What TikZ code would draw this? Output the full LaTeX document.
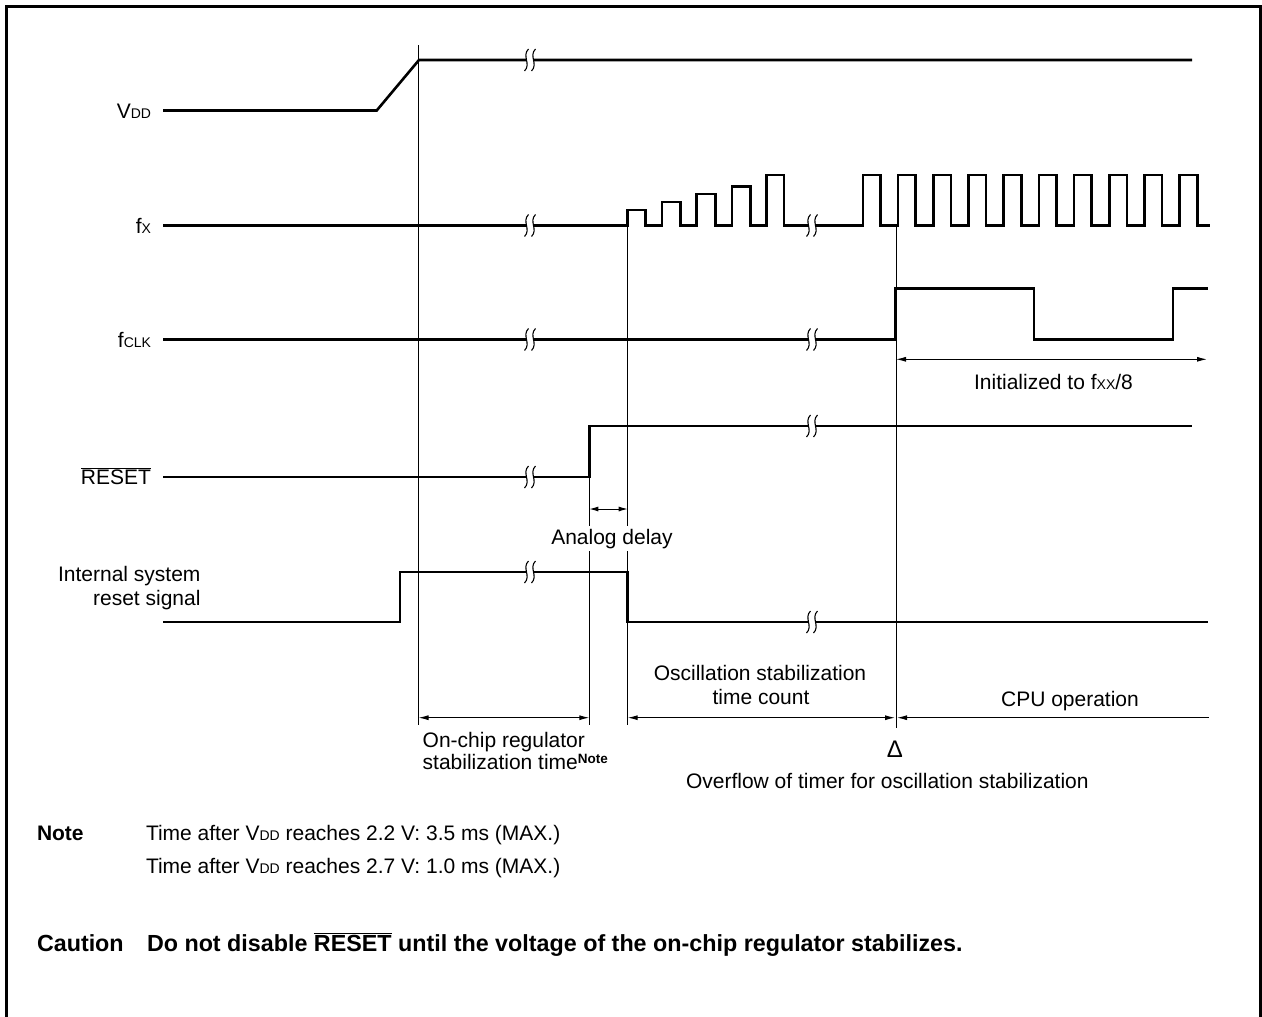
\documentclass[tikz,border=0pt]{standalone}
\usepackage{fontspec}
\setmainfont{Liberation Sans}
\usetikzlibrary{arrows.meta}
\newcommand{\sm}[1]{{\fontsize{14}{14}\selectfont #1}}
\newcommand{\brkmark}[2]{%
  \fill[white] (#1-4,#2-2.5) rectangle (#1+3.5,#2+2.5);
  \foreach \dx in {-3.5,3.5}{%
    \draw[line width=1.1pt] (#1+\dx+2,#2-11) .. controls (#1+\dx-5,#2-4) and (#1+\dx+5,#2+4) .. (#1+\dx-2,#2+11);}%
}
\begin{document}
\begin{tikzpicture}[x=1pt,y=-1pt,
  sig/.style={line width=2.6pt},
  guide/.style={line width=1pt},
  dimarr/.style={line width=1pt,{Latex[length=10pt,width=5pt]}-{Latex[length=10pt,width=5pt]}},
  leftarr/.style={line width=1pt,{Latex[length=10pt,width=5pt]}-},
  txt/.style={font=\fontsize{21}{23}\selectfont, inner sep=0pt, outer sep=0pt},
  cautxt/.style={font=\fontsize{23.3}{25}\selectfont\bfseries, inner sep=0pt, outer sep=0pt}]
\useasboundingbox (0,0) rectangle (1262,1017);
\fill[white] (0,0) rectangle (1262,1017);
\draw[line width=3pt] (6.5,1017) -- (6.5,6.5) -- (1260.5,6.5) -- (1260.5,1017);

% guide lines
\coordinate (tA) at (418.5,45);   \coordinate (bA) at (418.5,725);
\coordinate (tB) at (589.3,477);  \coordinate (bB) at (589.3,725);
\coordinate (tC) at (627.7,225.5);\coordinate (bC) at (627.7,725);
\coordinate (tD) at (896,225.5);  \coordinate (bD) at (896,728);
\draw[guide] (tA) -- (bA);
\draw[guide] (tB) -- (bB);
\draw[guide] (tC) -- (bC);
\draw[guide] (tD) -- (bD);

% waveforms
\draw[sig] (163,110.5) -- (376.7,110.5) -- (419,60) -- (1192,60);
\draw[sig] (163,225.5) -- (627.7,225.5)
  -- (627.7,210) -- (645.7,210) -- (645.7,225.5) -- (662,225.5)
  -- (662,202) -- (680.7,202) -- (680.7,225.5) -- (696.7,225.5)
  -- (696.7,194) -- (715.7,194) -- (715.7,225.5) -- (732,225.5)
  -- (732,186.7) -- (750.7,186.7) -- (750.7,225.5) -- (766.7,225.5)
  -- (766.7,175) -- (784,175) -- (784,225.5) -- (862.8,225.5)
  \foreach \k in {0,...,8}{ -- ++(0,-50.5) -- ++(17.6,0) -- ++(0,50.5) -- ++(17.6,0)}
  -- ++(0,-50.5) -- ++(17.6,0) -- ++(0,50.5) -- (1210,225.5);
\draw[sig] (163,339.5) -- (895,339.5) -- (895,288.5) -- (1034,288.5) -- (1034,339.5)
  -- (1173,339.5) -- (1173,288.5) -- (1208,288.5);
\draw[sig] (163,477) -- (589.3,477) -- (589.3,426) -- (1192,426);
\draw[sig] (163,622) -- (400,622) -- (400,572) -- (627.7,572) -- (627.7,622) -- (1208,622);

% break marks
\brkmark{530}{60}
\brkmark{530}{225.5}\brkmark{812}{225.5}
\brkmark{530}{339.5}\brkmark{812}{339.5}
\brkmark{530}{477}\brkmark{812}{426}
\brkmark{530}{572}\brkmark{812}{622}

% dimension arrows
\coordinate (iL) at (896,359.3); \coordinate (iR) at (1207,359.3);
\draw[dimarr] (iL) -- (iR);
\coordinate (aL) at (589.3,509); \coordinate (aR) at (627.7,509);
\draw[line width=1pt,{Latex[length=9pt,width=5pt]}-{Latex[length=9pt,width=5pt]}] (aL) -- (aR);
\coordinate (rL) at (418.5,717.7); \coordinate (rR) at (589.3,717.7);
\draw[dimarr] (rL) -- (rR);
\coordinate (oL) at (627.7,717.7); \coordinate (oR) at (895,717.7);
\draw[dimarr] (oL) -- (oR);
\coordinate (cL) at (897,717.7); \coordinate (cR) at (1209,717.7);
\draw[leftarr] (cL) -- (cR);

% signal labels
\node[txt, anchor=base east] (lvdd) at (151,118) {V\sm{DD}};
\node[txt, anchor=base east] (lfx) at (151,233) {f\sm{X}};
\node[txt, anchor=base east] (lfclk) at (151,347) {f\sm{CLK}};
\node[txt, anchor=base east] (lreset) at (151,484.5) {$\overline{\mbox{RESET}}$};
\node[txt, anchor=base east] (lint1) at (200.5,581) {Internal system};
\node[txt, anchor=base east] (lint2) at (200.5,605.5) {reset signal};

% annotations
\node[txt, anchor=base] (tinit) at (1053.5,389) {Initialized to f\sm{XX}/8};
\node[txt, anchor=base, fill=white, inner xsep=0pt, inner ysep=3pt] (tanalog) at (612,544) {Analog delay};
\node[txt, anchor=base west] (treg1) at (422.7,747.3) {On-chip regulator};
\node[txt, anchor=base west] (treg2) at (422.7,769) {stabilization time\raisebox{6pt}{\fontsize{13.5}{13.5}\selectfont\bfseries Note}};
\node[txt, anchor=base] (tosc1) at (760,680.7) {Oscillation stabilization};
\node[txt, anchor=base] (tosc2) at (761,704) {time count};
\node[txt, anchor=base] (tcpu) at (1070,706.7) {CPU operation};
\node[txt, anchor=base, font=\fontsize{24}{24}\selectfont] (tdelta) at (895,757.3) {Δ};
\node[txt, anchor=base west] (tovf) at (686,788) {Overflow of timer for oscillation stabilization};

% notes
\node[txt, anchor=base west] (nhd) at (37,840.5) {\bfseries Note};
\node[txt, anchor=base west] (n1) at (146,840.5) {Time after V\sm{DD} reaches 2.2 V: 3.5 ms (MAX.)};
\node[txt, anchor=base west] (n2) at (146,873.5) {Time after V\sm{DD} reaches 2.7 V: 1.0 ms (MAX.)};
\node[cautxt, anchor=base west] (chd) at (37,951) {Caution};
\node[cautxt, anchor=base west] (c1) at (147,951) {Do not disable $\overline{\mbox{\bfseries RESET}}$ until the voltage of the on-chip regulator stabilizes.};
\end{tikzpicture}
\end{document}
